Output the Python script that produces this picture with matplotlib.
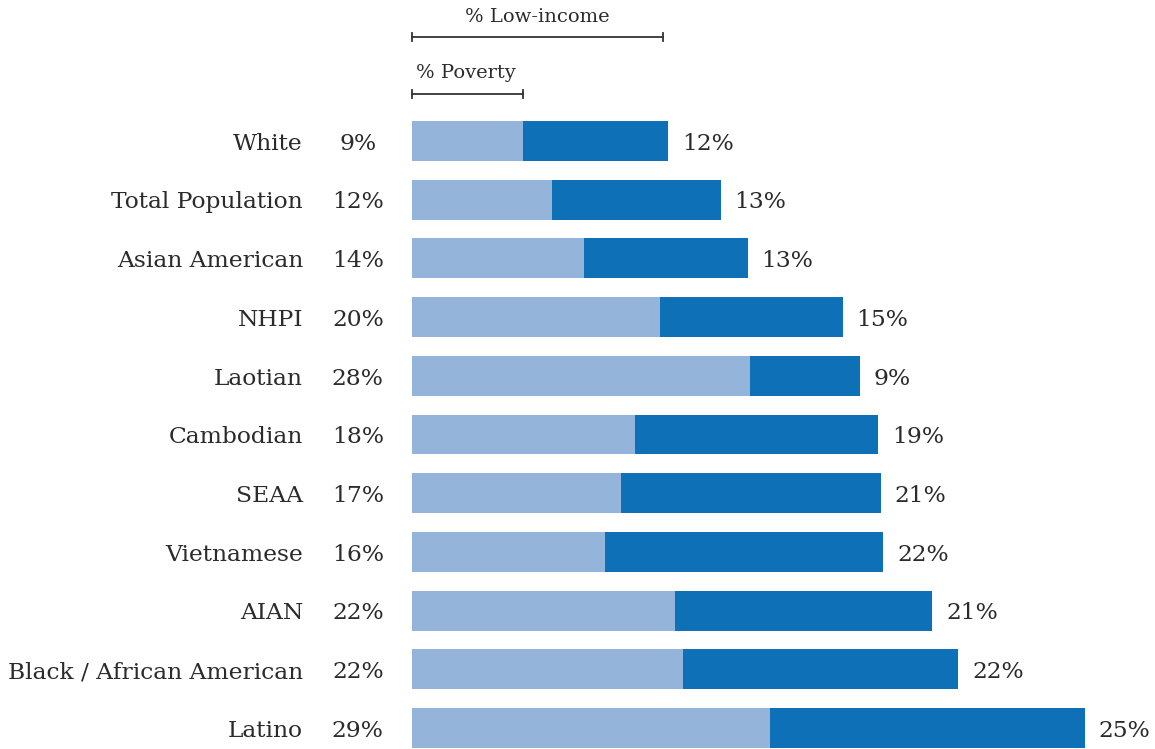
import matplotlib
matplotlib.use("Agg")
import matplotlib.pyplot as plt

categories = ["White", "Total Population", "Asian American", "NHPI", "Laotian",
              "Cambodian", "SEAA", "Vietnamese", "AIAN", "Black / African American", "Latino"]
# bar segment lengths (percent)
poverty = [9.0, 11.4, 14.0, 20.2, 27.5, 18.1, 17.0, 15.7, 21.4, 22.0, 29.1]
low_income_extra = [11.8, 13.7, 13.3, 14.8, 8.9, 19.8, 21.1, 22.6, 20.9, 22.4, 25.6]
# printed labels
poverty_labels = [9, 12, 14, 20, 28, 18, 17, 16, 22, 22, 29]
low_income_labels = [12, 13, 13, 15, 9, 19, 21, 22, 21, 22, 25]

LIGHT = "#95b4da"
DARK = "#0e70b7"
TEXT = "#2b2b2b"
FONT = "DejaVu Serif"

W, H = 1155, 749
fig = plt.figure(figsize=(W / 100, H / 100), dpi=100)
x0_px = 412
px_per_pct = 12.3
ax = fig.add_axes([x0_px / W, 0, 1 - x0_px / W, 1])
ax.set_xlim(0, (W - x0_px) / px_per_pct)
pitch = 58.7
y_top_px = 141
ax.set_ylim(10 + (H - 728) / pitch, -y_top_px / pitch)
ax.axis("off")

ys = list(range(len(categories)))
ax.barh(ys, poverty, height=0.68, color=LIGHT, left=0)
ax.barh(ys, low_income_extra, height=0.68, color=DARK, left=poverty)

fs = 16.8
dy = -2
for y, cat, p, e, pl, ll in zip(ys, categories, poverty, low_income_extra,
                                poverty_labels, low_income_labels):
    ax.annotate(cat, xy=(0, y), xytext=(-78.5, dy), textcoords="offset points",
                ha="right", va="center", fontsize=fs, color=TEXT, family=FONT,
                annotation_clip=False)
    ax.annotate(f"{pl}%", xy=(0, y), xytext=(-39, dy), textcoords="offset points",
                ha="center", va="center", fontsize=fs, color=TEXT, family=FONT,
                annotation_clip=False)
    ax.annotate(f"{ll}%", xy=(p + e, y), xytext=(10, dy), textcoords="offset points",
                ha="left", va="center", fontsize=fs, color=TEXT, family=FONT,
                annotation_clip=False)

# legend brackets
def bracket(x_end, y, label, ha, tx, ty):
    ax.plot([0, x_end], [y, y], color="#333333", lw=1.3, clip_on=False)
    for xx in (0, x_end):
        ax.plot([xx, xx], [y - 0.07, y + 0.07], color="#333333", lw=1.3, clip_on=False)
    ax.text(tx, ty, label, ha=ha, va="center", fontsize=14, color=TEXT, family=FONT)

li_end = 251 / px_per_pct
pov_end = 111 / px_per_pct
bracket(li_end, (37 - y_top_px) / pitch, "% Low-income", "center", li_end / 2, (17 - y_top_px) / pitch)
bracket(pov_end, (94 - y_top_px) / pitch, "% Poverty", "left", 4 / px_per_pct, (73 - y_top_px) / pitch)

fig.savefig("out.png", dpi=100)
